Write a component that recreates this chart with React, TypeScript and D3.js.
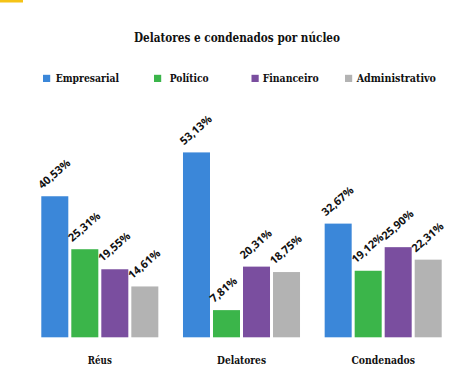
import React from "react";
import * as d3 from "d3";

const categories = ["Réus", "Delatores", "Condenados"];
const seriesNames = ["Empresarial", "Político", "Financeiro", "Administrativo"];
const empresarial = [40.53, 53.13, 32.67];
const politico = [25.31, 7.81, 19.12];
const financeiro = [19.55, 20.31, 25.9];
const administrativo = [14.61, 18.75, 22.31];
const seriesValues = [empresarial, politico, financeiro, administrativo];
const colors = ["#3b87d9", "#3bb54a", "#7a4e9f", "#b3b3b3"];

const W = 474;
const H = 392;
const serif = "'DejaVu Serif', 'Liberation Serif', serif";
const sans = "'Open Sans', 'DejaVu Sans', sans-serif";

export default function App() {
  const x0 = d3.scaleBand<string>().domain(categories).range([41.3, 441.7]).paddingInner(0.174).paddingOuter(0);
  const x1 = d3.scaleBand<string>().domain(seriesNames).range([0, x0.bandwidth()]).paddingInner(0.1).paddingOuter(0);
  const y = d3.scaleLinear().domain([0, 60]).range([337.3, 337.3 - 60 * 3.48]);
  const fmt = (v: number) => v.toFixed(2).replace(".", ",") + "%";

  const legendX = [43, 154, 251.5, 345];
  const legendTextX = [55.7, 169.7, 262.7, 356.7];
  const legendTextLen = [63.3, 39, 56, 79.3];
  const catLen = [24, 49, 63.5];

  return (
    <svg width={W} height={H} style={{ position: "absolute", left: 0, top: 0, background: "#fff" }}>
      <rect x={0} y={0} width={W} height={H} fill="#fff" />
      <rect x={0} y={0} width={23} height={2.5} fill="#f5c316" />
      <text x={134} y={42} textLength={206} lengthAdjust="spacingAndGlyphs" fontFamily={serif} fontWeight="bold" fontSize={12.5} fill="#111">
        Delatores e condenados por núcleo
      </text>
      {seriesNames.map((s, i) => (
        <g key={s}>
          <rect x={legendX[i]} y={74.8} width={7.2} height={7.2} fill={colors[i]} />
          <text x={legendTextX[i]} y={82.3} textLength={legendTextLen[i]} lengthAdjust="spacingAndGlyphs" fontFamily={serif} fontWeight="bold" fontSize={11} fill="#111">
            {s}
          </text>
        </g>
      ))}
      {categories.map((c, ci) => (
        <g key={c} transform={`translate(${x0(c)},0)`}>
          {seriesNames.map((s, si) => {
            const v = seriesValues[si][ci];
            const bx = x1(s)!;
            const top = y(v);
            return (
              <g key={s}>
                <rect x={bx} y={top} width={x1.bandwidth()} height={y(0) - top} fill={colors[si]} />
                <text
                  transform={`translate(${bx + 1},${top - 7}) rotate(-41)`}
                  fontFamily={sans}
                  fontWeight="bold"
                  fontSize={11}
                  fill="#111"
                >
                  {fmt(v)}
                </text>
              </g>
            );
          })}
          <text x={x0.bandwidth() / 2} y={364} textAnchor="middle" textLength={catLen[ci]} lengthAdjust="spacingAndGlyphs" fontFamily={serif} fontWeight="bold" fontSize={11} fill="#111">
            {c}
          </text>
        </g>
      ))}
    </svg>
  );
}
